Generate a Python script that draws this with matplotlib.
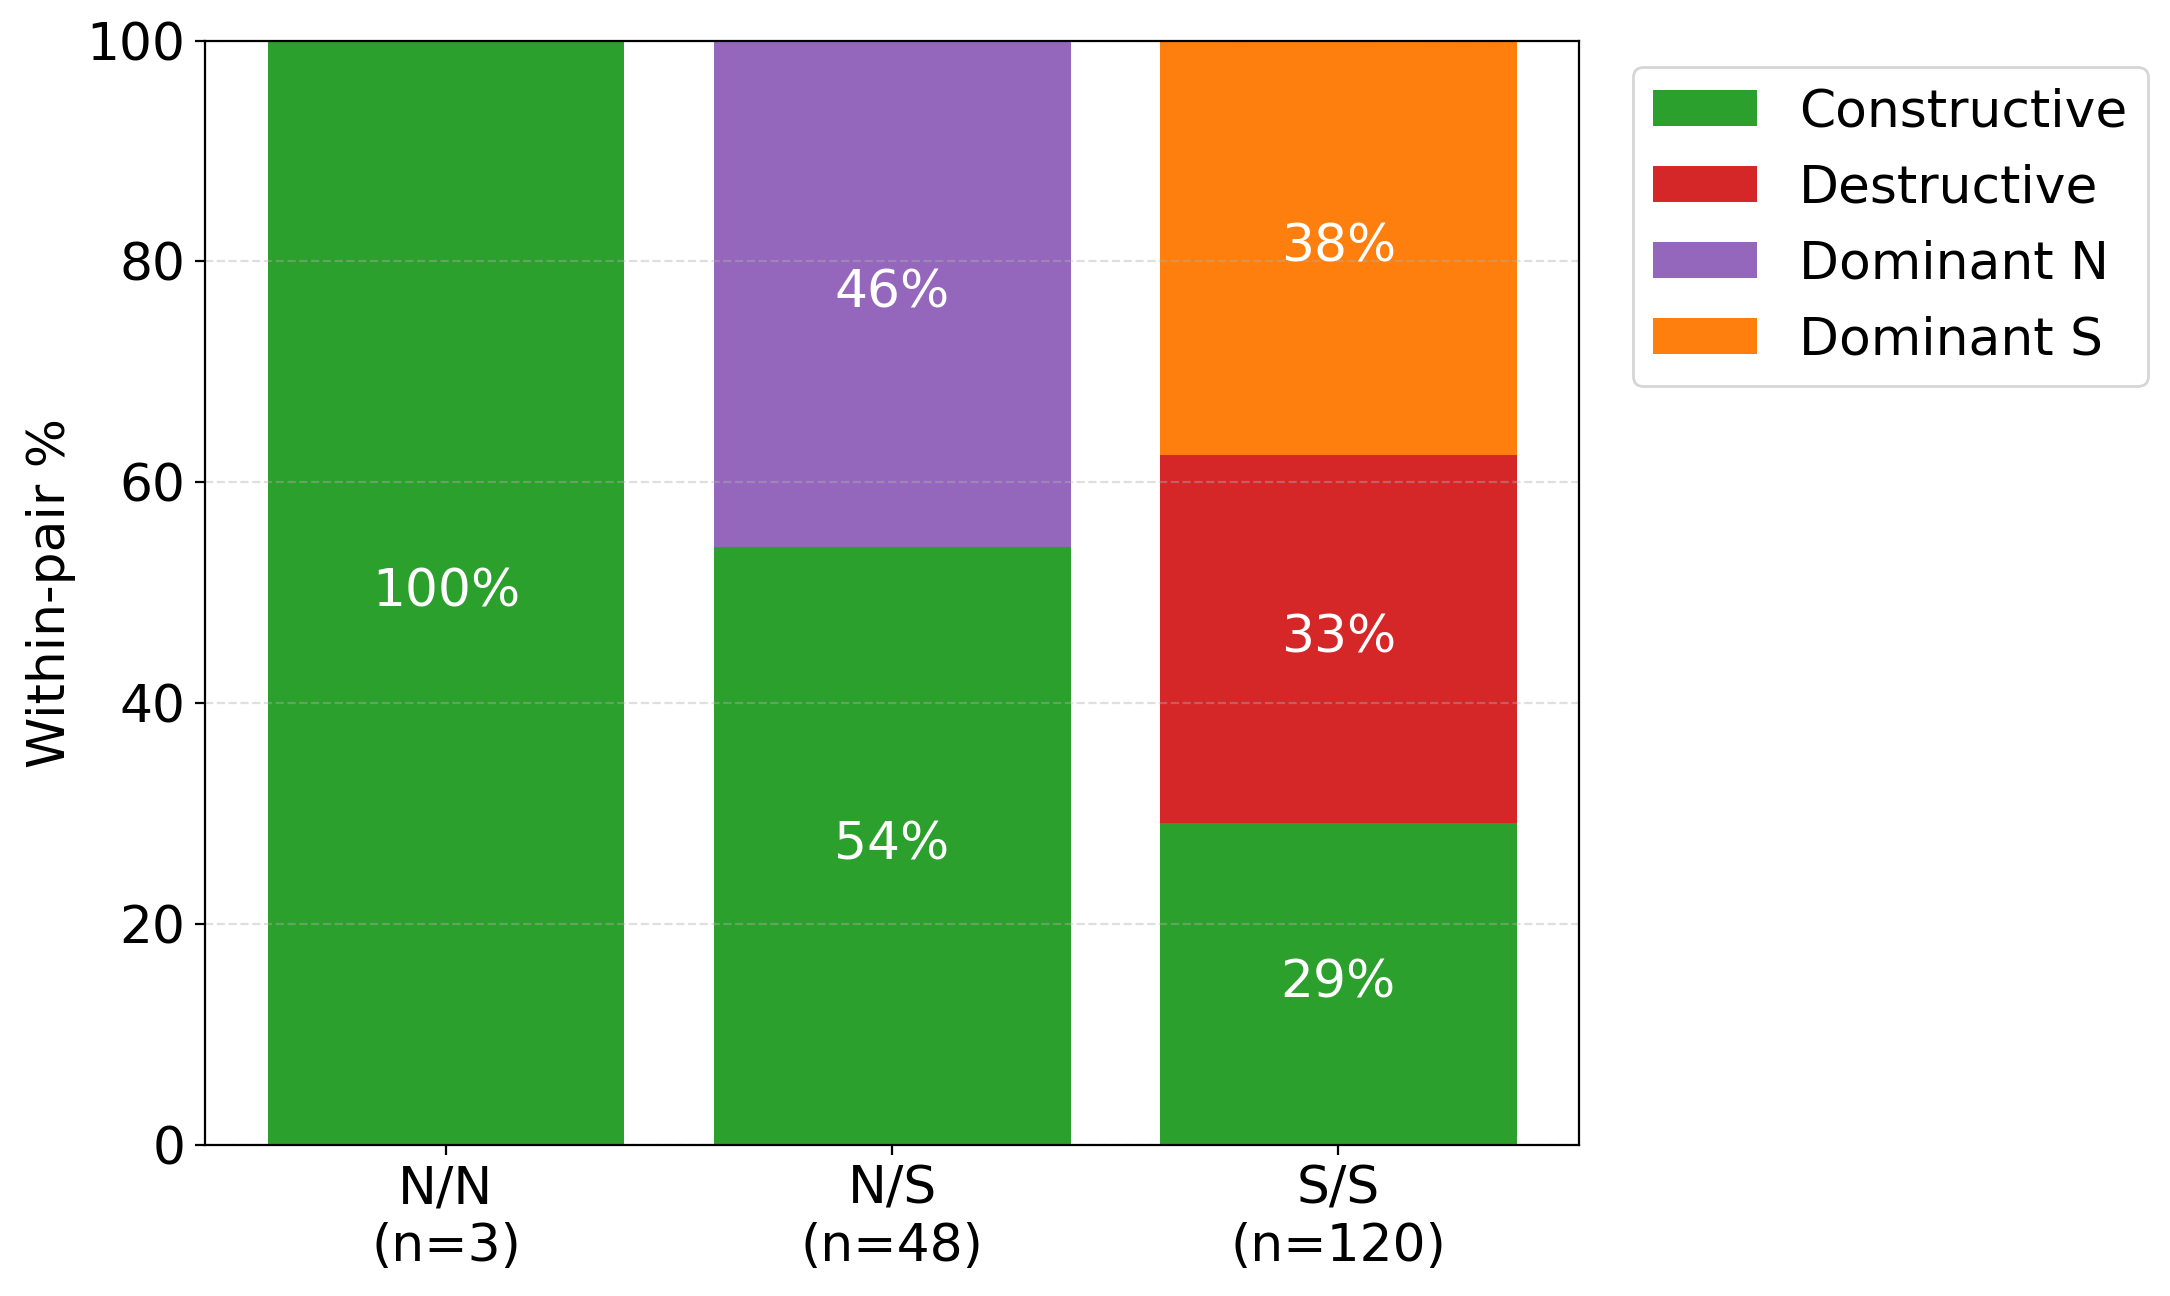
import matplotlib
matplotlib.use("Agg")
import matplotlib.pyplot as plt
import numpy as np

# pair groups and counts of each interaction type
groups = ["N/N", "N/S", "S/S"]
group_n = [3, 48, 120]
categories = ["Constructive", "Destructive", "Dominant N", "Dominant S"]
constructive = [3, 26, 35]
destructive = [0, 0, 40]
dominant_n = [0, 22, 0]
dominant_s = [0, 0, 45]
colors = ["tab:green", "tab:red", "tab:purple", "tab:orange"]

plt.rcParams["font.size"] = 18.7

counts = np.array([constructive, destructive, dominant_n, dominant_s], dtype=float)
pct = counts / np.array(group_n, dtype=float) * 100.0

fig = plt.figure(figsize=(10.85, 6.48), dpi=200)
ax = fig.add_axes([0.0945, 0.1167, 0.6332, 0.852])

x = np.arange(len(groups))
bottom = np.zeros(len(groups))
for label, vals, color in zip(categories, pct, colors):
    ax.bar(x, vals, width=0.8, bottom=bottom, color=color, label=label)
    for xi, b, v in zip(x, bottom, vals):
        if v > 0:
            ax.text(xi, b + v / 2, f"{v:.0f}%", ha="center", va="center",
                    color="white")
    bottom += vals

ax.set_xticks(x)
ax.set_xticklabels([f"{g}\n(n={n})" for g, n in zip(groups, group_n)])
ax.set_ylim(0, 100)
ax.set_ylabel("Within-pair %")
ax.grid(axis="y", linestyle="--", alpha=0.4)
ax.legend(loc="upper left", bbox_to_anchor=(1.02, 1.0))

fig.savefig("out.png", dpi=200)
